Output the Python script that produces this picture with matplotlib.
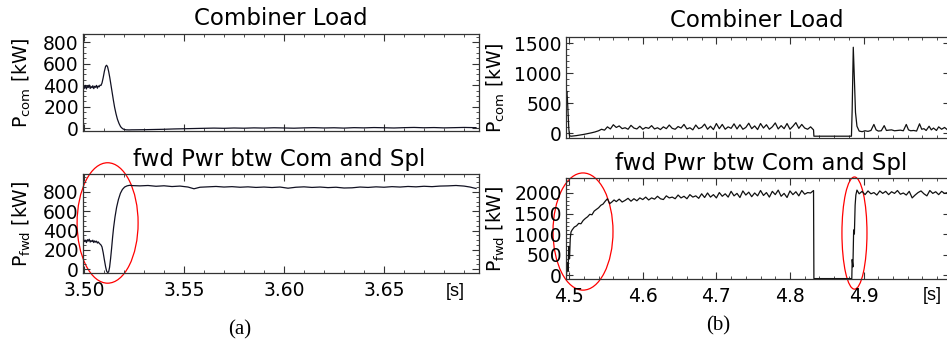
import matplotlib
matplotlib.use("Agg")
import matplotlib.pyplot as plt
from matplotlib.patches import Ellipse
from matplotlib.ticker import MultipleLocator

plt.rcParams['mathtext.default'] = 'regular'
plt.rcParams['font.family'] = ['DejaVu Sans']

# ---------------- data : panel (a) ----------------
ta_com = [3.4996, 3.4998, 3.5003, 3.5008, 3.5012, 3.5017, 3.5021, 3.5026, 3.5031, 3.5035,
          3.5040, 3.5044, 3.5049, 3.5053, 3.5058, 3.5062, 3.5067, 3.5071, 3.5076, 3.5080,
          3.5085, 3.5090, 3.5096, 3.5102, 3.5108, 3.5113, 3.5118, 3.5123, 3.5129, 3.5135,
          3.5141, 3.5147, 3.5153, 3.5160, 3.5167, 3.5175, 3.5183, 3.5192, 3.5200, 3.5210,
          3.5225, 3.5240,
          3.525, 3.530, 3.535, 3.540, 3.545, 3.550, 3.555, 3.560, 3.565, 3.570,
          3.575, 3.580, 3.585, 3.590, 3.595, 3.600, 3.605, 3.610, 3.615, 3.620,
          3.625, 3.630, 3.635, 3.640, 3.645, 3.650, 3.655, 3.660, 3.665, 3.670,
          3.675, 3.680, 3.685, 3.690, 3.696]
pa_com = [300, 395, 372, 398, 365, 392, 378, 401, 370, 388,
          376, 395, 368, 390, 380, 398, 372, 393, 385, 400,
          398, 420, 470, 530, 575, 585, 570, 530, 470, 400,
          330, 260, 195, 135, 85, 45, 15, -2, -10, -14,
          -15, -14,
          -14, -13, -11, -9, -6, -4, -2, 0, 2, 0,
          3, 1, 4, 2, 5, 3, 1, 4, 6, 3,
          5, 2, 6, 4, 7, 5, 3, 6, 8, 5,
          7, 4, 6, 8, 6]

ta_fwd = [3.4996, 3.4998, 3.5003, 3.5008, 3.5012, 3.5017, 3.5021, 3.5026, 3.5031, 3.5035,
          3.5040, 3.5044, 3.5049, 3.5053, 3.5058, 3.5062, 3.5067, 3.5071, 3.5076, 3.5080,
          3.5085, 3.5090, 3.5096, 3.5102, 3.5108, 3.5113, 3.5118, 3.5123, 3.5128, 3.5133,
          3.5138, 3.5143, 3.5148, 3.5155, 3.5163, 3.5172, 3.5182, 3.5192, 3.5203, 3.5215,
          3.5228, 3.5240,
          3.528, 3.532, 3.536, 3.540, 3.544, 3.548, 3.552, 3.555, 3.558, 3.562,
          3.566, 3.570, 3.574, 3.578, 3.582, 3.586, 3.590, 3.594, 3.598, 3.602,
          3.606, 3.610, 3.614, 3.618, 3.622, 3.626, 3.630, 3.634, 3.638, 3.642,
          3.646, 3.650, 3.654, 3.658, 3.662, 3.666, 3.670, 3.674, 3.678, 3.682,
          3.686, 3.690, 3.693, 3.696]
pa_fwd = [380, 310, 285, 300, 275, 305, 290, 310, 280, 295,
          285, 300, 275, 292, 280, 290, 270, 282, 268, 260,
          250, 230, 170, 95, 25, -20, -35, -30, 20, 110,
          215, 330, 430, 540, 640, 720, 785, 825, 850, 862,
          868, 865,
          862, 866, 858, 863, 855, 860, 850, 832, 848, 852,
          856, 850, 854, 848, 852, 846, 850, 845, 850, 838,
          848, 852, 846, 850, 844, 848, 840, 842, 850, 846,
          852, 848, 854, 850, 856, 852, 858, 854, 860, 862,
          866, 860, 850, 835]

# ---------------- data : panel (b) ----------------
tb_com = [4.4962, 4.4968, 4.4975, 4.4985, 4.4995, 4.5005, 4.503, 4.510, 4.520, 4.530,
          4.535, 4.540,
          4.544, 4.548, 4.552, 4.556, 4.560, 4.564, 4.568, 4.572, 4.576, 4.580,
          4.584, 4.588, 4.592, 4.596, 4.600, 4.604, 4.608, 4.612, 4.616, 4.620,
          4.624, 4.628, 4.632, 4.636, 4.640, 4.644, 4.648, 4.652, 4.656, 4.660,
          4.664, 4.668, 4.672, 4.676, 4.680, 4.684, 4.688, 4.692, 4.696, 4.700,
          4.704, 4.708, 4.712, 4.716, 4.720, 4.724, 4.728, 4.732, 4.736, 4.740,
          4.744, 4.748, 4.752, 4.756, 4.760, 4.764, 4.768, 4.772, 4.776, 4.780,
          4.784, 4.788, 4.792, 4.796, 4.800, 4.804, 4.808, 4.812, 4.816, 4.820,
          4.824, 4.828, 4.832,
          4.8325, 4.8835, 4.8845, 4.8860, 4.8875, 4.8890, 4.8910, 4.894, 4.898, 4.902,
          4.906, 4.910, 4.914, 4.917, 4.920, 4.924, 4.928, 4.931, 4.934, 4.938,
          4.942, 4.946, 4.950, 4.954, 4.958, 4.961, 4.964, 4.968, 4.972, 4.976,
          4.979, 4.982, 4.985, 4.989, 4.992, 4.995, 4.999, 5.002, 5.006, 5.010,
          5.014, 5.018]
pb_com = [650, 700, 600, 350, 80, -40, -45, -35, -15, 10,
          25, 45,
          70, 55, 110, 75, 145, 100, 125, 80, 95, 70,
          135, 90, 75, 120, 70, 100, 85, 130, 75, 95,
          65, 110, 80, 140, 85, 70, 115, 90, 150, 75,
          95, 60, 140, 80, 100, 155, 70, 120, 65, 165,
          80, 150, 70, 110, 85, 160, 75, 145, 70, 100,
          170, 80, 125, 65, 165, 90, 145, 70, 110, 175,
          75, 130, 80, 165, 70, 120, 180, 85, 150, 90,
          70, 110, 60,
          -45, -45, 400, 1430, 900, 350, 120, 40, 30, 45,
          35, 50, 150, 60, 40, 45, 130, 50, 55, 60,
          45, 50, 55, 45, 150, 60, 45, 50, 40, 160,
          70, 80, 50, 120, 60, 90, 50, 110, 70, 100,
          60, 90]

tb_fwd = [4.4962, 4.4975, 4.4985, 4.4995, 4.5005, 4.5015, 4.5025, 4.504, 4.507, 4.510,
          4.513, 4.516, 4.519, 4.522, 4.525, 4.528, 4.531, 4.534, 4.537, 4.540,
          4.543, 4.546, 4.549, 4.552, 4.555, 4.558, 4.561, 4.564, 4.568, 4.572,
          4.576,
          4.580, 4.584, 4.588, 4.592, 4.596, 4.600, 4.604, 4.608, 4.612, 4.616,
          4.620, 4.624, 4.628, 4.632, 4.636, 4.640, 4.644, 4.648, 4.652, 4.656,
          4.660, 4.664, 4.668, 4.672, 4.676, 4.680, 4.684, 4.688, 4.692, 4.696,
          4.700, 4.704, 4.708, 4.712, 4.716, 4.720, 4.724, 4.728, 4.732, 4.736,
          4.740, 4.744, 4.748, 4.752, 4.756, 4.760, 4.764, 4.768, 4.772, 4.776,
          4.780, 4.784, 4.788, 4.792, 4.796, 4.800, 4.804, 4.808, 4.812, 4.816,
          4.820, 4.824, 4.828, 4.832,
          4.8325, 4.884, 4.8845, 4.8855, 4.8865, 4.8875, 4.8885, 4.8895, 4.891, 4.894,
          4.898, 4.902, 4.906, 4.910, 4.914, 4.918, 4.922, 4.926, 4.930, 4.934,
          4.938, 4.942, 4.946, 4.950, 4.954, 4.958, 4.962, 4.966, 4.970, 4.974,
          4.978, 4.982, 4.986, 4.990, 4.994, 4.998, 5.002, 5.006, 5.010, 5.014,
          5.018]
pb_fwd = [-40, 300, 100, 700, 400, 900, 1050, 1100, 1170, 1200,
          1260, 1250, 1330, 1380, 1420, 1480, 1470, 1560, 1600, 1640,
          1700, 1730, 1800, 1860, 1740, 1780, 1830, 1790, 1850, 1780,
          1820,
          1870, 1800, 1860, 1810, 1880, 1840, 1900, 1830, 1880, 1850,
          1920, 1860, 1840, 1930, 1880, 1900, 1860, 1950, 1880, 1920,
          1860, 1960, 1900, 1930, 1870, 1980, 1890, 2000, 1900, 1960,
          1880, 2010, 1920, 1980, 1900, 2040, 1930, 1990, 1890, 2050,
          1950, 2020, 1910, 2000, 1930, 2060, 1940, 2010, 1900, 2040,
          1960, 2070, 1920, 1990, 1890, 2050, 1960, 2030, 1930, 2060,
          1970, 2010, 2000, 2060,
          -85, -85, 380, 200, 1100, 1000, 1700, 1950, 2070, 1980,
          2040, 1960, 2050, 1980, 2010, 1950, 2050, 1990, 2040, 1960,
          2030, 1990, 2060, 1970, 2000, 1950, 2040, 1880, 1950, 2010,
          2050, 1980, 1930, 2060, 1990, 2030, 1960, 2040, 1990, 2010,
          1970]

a_xticks = [3.50, 3.55, 3.60, 3.65]
a_xticklabels = ['3.50', '3.55', '3.60', '3.65']
b_xticks = [4.5, 4.6, 4.7, 4.8, 4.9]
b_xticklabels = ['4.5', '4.6', '4.7', '4.8', '4.9']
a_com_yticks = [0, 200, 400, 600, 800]
a_fwd_yticks = [0, 200, 400, 600, 800]
b_com_yticks = [0, 500, 1000, 1500]
b_fwd_yticks = [0, 500, 1000, 1500, 2000]

titles = ['Combiner Load', 'fwd Pwr btw Com and Spl']
ylab_com = 'P$_{com}$ [kW]'
ylab_fwd = 'P$_{fwd}$ [kW]'

# ---------------- figure ----------------
W, H = 947, 347
fig = plt.figure(figsize=(W / 100, H / 100), dpi=100)

def px_axes(left, right, top, bottom):
    return fig.add_axes([left / W, 1 - bottom / H, (right - left) / W, (bottom - top) / H])

def ftext(x, y, s, **kw):
    return fig.text(x / W, 1 - y / H, s, **kw)

TICKFS = 13.5
TITLEFS = 16.5

def style(ax, xmin, ymin):
    for s in ax.spines.values():
        s.set_linewidth(0.9)
        s.set_color('#333333')
    ax.xaxis.set_minor_locator(MultipleLocator(xmin))
    ax.yaxis.set_minor_locator(MultipleLocator(ymin))
    ax.tick_params(which='both', direction='in', top=True, right=True, color='#333333')
    ax.tick_params(which='major', length=5, width=0.8, labelsize=TICKFS, pad=3)
    ax.tick_params(which='minor', length=2.5, width=0.6)

# Panel (a)
ax1 = px_axes(83, 479, 34, 131)
ax1.plot(ta_com, pa_com, color='#111122', lw=0.9)
ax1.set_xlim(3.4995, 3.6975)
ax1.set_ylim(-25, 875)
ax1.set_yticks(a_com_yticks)
ax1.set_xticks(a_xticks)
ax1.set_xticklabels([])
style(ax1, 0.01, 50)
ax1.set_ylabel(ylab_com, fontsize=TICKFS, labelpad=7)

ax2 = px_axes(83, 479, 174, 273)
ax2.plot(ta_fwd, pa_fwd, color='#111122', lw=0.9)
ax2.set_xlim(3.4995, 3.6975)
ax2.set_ylim(-40, 985)
ax2.set_yticks(a_fwd_yticks)
ax2.set_xticks(a_xticks)
ax2.set_xticklabels(a_xticklabels)
style(ax2, 0.01, 50)
ax2.tick_params(axis='x', pad=6)
ax2.set_ylabel(ylab_fwd, fontsize=TICKFS, labelpad=7)
ax2.add_patch(Ellipse((3.5118, 478), 0.0305, 1247, fill=False, ec='red', lw=0.9, clip_on=False))

# Panel (b)
ax3 = px_axes(566, 950, 37, 138)
ax3.plot(tb_com, pb_com, color='#111111', lw=0.9)
ax3.set_xlim(4.4957, 5.0174)
ax3.set_ylim(-75, 1600)
ax3.set_yticks(b_com_yticks)
ax3.set_xticks(b_xticks)
ax3.set_xticklabels([])
style(ax3, 0.02, 100)
ax3.set_ylabel(ylab_com, fontsize=TICKFS, labelpad=5)

ax4 = px_axes(566, 950, 178, 279)
ax4.plot(tb_fwd, pb_fwd, color='#111111', lw=0.9)
ax4.set_xlim(4.4957, 5.0174)
ax4.set_ylim(-95, 2365)
ax4.set_yticks(b_fwd_yticks)
ax4.set_xticks(b_xticks)
ax4.set_xticklabels(b_xticklabels)
style(ax4, 0.02, 100)
ax4.tick_params(axis='x', pad=6)
ax4.set_ylabel(ylab_fwd, fontsize=TICKFS, labelpad=5)
ax4.add_patch(Ellipse((4.5188, 1061), 0.0815, 2854, fill=False, ec='red', lw=0.9, clip_on=False))
ax4.add_patch(Ellipse((4.8876, 1024), 0.034, 2732, fill=False, ec='red', lw=0.9, clip_on=False))

# titles
ftext(281, 25, titles[0], fontsize=TITLEFS, ha='center', va='baseline')
ftext(279, 166, titles[1], fontsize=TITLEFS, ha='center', va='baseline')
ftext(757, 27, titles[0], fontsize=TITLEFS, ha='center', va='baseline')
ftext(761, 170, titles[1], fontsize=TITLEFS, ha='center', va='baseline')

# unit labels and panel letters
ftext(455, 292, '[s]', fontsize=13, family='Liberation Sans', ha='center', va='center')
ftext(932, 295, '[s]', fontsize=13, family='Liberation Sans', ha='center', va='center')
ftext(240, 330, '(a)', fontsize=15, family='Liberation Serif', ha='center', va='center')
ftext(718, 326, '(b)', fontsize=15, family='Liberation Serif', ha='center', va='center')

fig.savefig('out.png', dpi=100)
